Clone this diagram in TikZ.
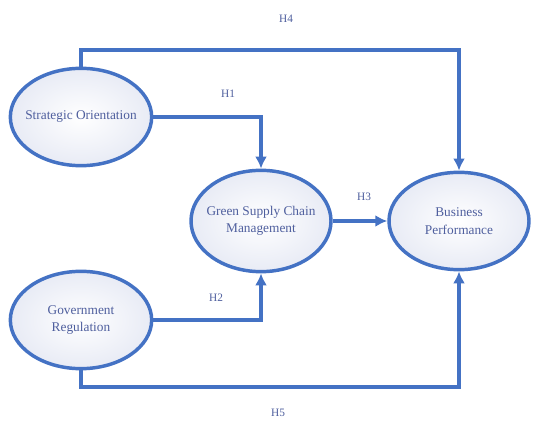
\documentclass[tikz,border=0pt]{standalone}
\usepackage{fontspec}
\setmainfont{Liberation Serif}
\usetikzlibrary{shapes.geometric,arrows.meta}
\definecolor{linkblue}{HTML}{4472C4}
\definecolor{textblue}{HTML}{4F5F9E}
\definecolor{edgefill}{HTML}{E8EBF5}
\tikzset{
  construct/.style={ellipse,draw=linkblue,line width=2.6pt,inner color=white,outer color=edgefill,
    minimum width=106pt,minimum height=73pt,inner xsep=-5pt,inner ysep=0pt,align=center,text=textblue,
    font=\fontsize{10}{13}\selectfont},
  link/.style={draw=linkblue,line width=2.6pt,-{Latex[length=9pt,width=9pt]}},
  hyp/.style={text=textblue,font=\fontsize{8.5}{10}\selectfont}
}
\begin{document}
\begin{tikzpicture}[x=0.75pt,y=-0.75pt]
        %fisso i margini
        \useasboundingbox (0,0) rectangle (538,423);
        %disegno i costrutti
        \node[construct] (so) at (81,117) {Strategic Orientation};
        \node[construct] (gr) at (81,320) {Government\\Regulation};
        \node[construct,minimum width=105pt,minimum height=76pt] (gscm) at (261,221) {Green Supply Chain\\Management};
        \node[construct,minimum width=105pt] (bp) at (459,221) {Business\\Performance};
        %coordinate dei percorsi esterni
        \coordinate (top) at (0,50);
        \coordinate (bottom) at (0,387);
        
        %disegno le frecce
        \draw[link] (so.north) -- (so.north |- top) -| (bp.north);
        \draw[link] (so.east) -| (gscm.north);
        \draw[link] (gr.east) -| (gscm.south);
        \draw[link] (gscm.east) -- (bp.west);
        \draw[link] (gr.south) -- (gr.south |- bottom) -| (bp.south);
        
        %label delle ipotesi
        \node[hyp] (h1) at (228,94) {H1};
        \node[hyp] (h2) at (216,298) {H2};
        \node[hyp] (h3) at (364,197) {H3};
        \node[hyp] (h4) at (286,19) {H4};
        \node[hyp] (h5) at (278,413) {H5};
        
    \end{tikzpicture}
\end{document}
